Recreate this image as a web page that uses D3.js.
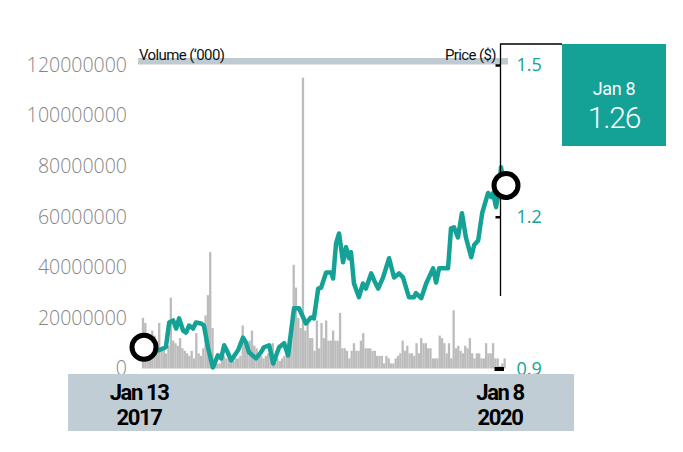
<!DOCTYPE html>
<html>
<head>
<meta charset="utf-8">
<script src="https://cdn.jsdelivr.net/npm/d3@7"></script>
<style>
  body { margin: 0; background: #fff; }
  text { font-family: "Open Sans", "Noto Sans", sans-serif; }
</style>
</head>
<body>
<svg id="chart" width="683" height="452"></svg>
<script>
// weekly volume in millions, first week Jan 13 2017
let volumeM = [20,18,14,12,15,13,9,18,7,8, 6,9,28,11,10,9,12,8,7,6,
  5,7,4,14,6,5,8,21,29,46, 16,3,2,2,5,5,4,4,4,3,
  4,4,5,17,11,10,11,15,9,8, 5,5,4,5,6,6,10,4,4,3,
  4,5,8,7,16,41,32,20,16,115, 15,18,12,12,7,19,8,18,12,19,
  11,11,15,11,11,22,8,8,7,4, 7,10,7,7,11,14,8,8,8,7,
  7,5,5,5,2,5,4,2,2,4, 5,6,11,7,9,6,6,5,10,6,
  12,10,10,8,8,4,4,4,13,12, 10,6,10,4,23,8,9,7,6,9,
  8,12,6,4,6,6,4,4,10,6, 6,10,4,4,1,2,4];

let priceDates = ["2017-01-13","2017-03-02","2017-03-23","2017-04-02","2017-04-14","2017-04-23","2017-05-02","2017-05-14","2017-05-23","2017-06-01","2017-06-13","2017-06-22","2017-07-07","2017-07-16","2017-07-28","2017-08-12","2017-08-27","2017-09-06","2017-09-15","2017-09-27","2017-10-06","2017-10-27","2017-11-11","2017-11-20","2017-11-29","2017-12-20",
  "2018-01-04","2018-01-13","2018-01-29","2018-02-10","2018-02-28","2018-03-15","2018-03-27","2018-04-14","2018-04-29","2018-05-20","2018-06-04","2018-06-13","2018-06-26","2018-07-05","2018-07-20","2018-08-04","2018-08-10","2018-08-19","2018-08-28","2018-09-09","2018-09-18","2018-09-27","2018-10-03","2018-10-12","2018-10-27","2018-11-08","2018-11-17","2018-12-03","2018-12-12","2018-12-24",
  "2019-01-08","2019-01-26","2019-02-10","2019-02-25","2019-03-09","2019-03-27","2019-04-11","2019-04-17","2019-05-03","2019-05-18","2019-06-08","2019-06-17","2019-06-26","2019-07-23","2019-08-01","2019-08-10","2019-08-22","2019-09-03","2019-09-15","2019-10-01","2019-10-10","2019-10-22","2019-11-03","2019-11-21","2019-11-30","2019-12-06","2019-12-15","2019-12-24","2019-12-30",
  "2020-01-08"];
let priceValues = [0.940,0.936,0.942,0.991,0.995,0.979,0.999,0.975,0.971,0.985,0.979,0.991,0.989,0.985,0.942,0.902,0.926,0.920,0.946,0.930,0.916,0.936,0.961,0.951,0.932,0.920,
  0.932,0.942,0.946,0.910,0.942,0.950,0.926,1.019,1.019,0.989,1.001,0.999,1.058,1.060,1.090,1.090,1.078,1.148,1.167,1.110,1.140,1.118,1.130,1.068,1.041,1.068,1.058,1.088,1.074,1.058,
  1.080,1.118,1.080,1.088,1.080,1.041,1.041,1.049,1.039,1.068,1.098,1.070,1.098,1.098,1.177,1.179,1.159,1.207,1.159,1.120,1.144,1.153,1.207,1.247,1.239,1.247,1.219,1.252,1.298,
  1.26];

let volumeTicks = [0, 20, 40, 60, 80, 100, 120];
let priceTicks = [0.9, 1.2, 1.5];
let startLabel = ["Jan 13", "2017"];
let endLabel = ["Jan 8", "2020"];
let lastDay = "Jan 8";
let lastPrice = 1.26;

let teal = "#14a196";
let parse = d3.timeParse("%Y-%m-%d");
let svg = d3.select("#chart");

let startDate = parse(priceDates[0]);
let endDate = parse(priceDates[priceDates.length - 1]);

let x = d3.scaleTime().domain([startDate, endDate]).range([143, 504]);
let yVol = d3.scaleLinear().domain([0, 120]).range([368.5, 65]);
let yPrice = d3.scaleLinear().domain([0.9, 1.5]).range([368.5, 65]);

// header strip
svg.append("rect").attr("x", 138).attr("y", 58).attr("width", 370).attr("height", 6.5).attr("fill", "#bfcbd2");
svg.append("text").attr("x", 139).attr("y", 59.5).text("Volume (\u2018000)")
   .style("font-family", "Roboto").style("font-size", "15px").style("letter-spacing", "-0.6px").attr("fill", "#111");
svg.append("text").attr("x", 496).attr("y", 59.5).attr("text-anchor", "end").text("Price ($)")
   .style("font-family", "Roboto").style("font-size", "15px").style("letter-spacing", "-0.6px").attr("fill", "#111");

// volume axis
let volAxis = svg.append("g").attr("transform", "translate(127,0)")
   .call(d3.axisLeft(yVol).tickValues(volumeTicks).tickSize(0).tickPadding(0)
         .tickFormat(d => d3.format("d")(d * 1e6)));
volAxis.select(".domain").remove();
volAxis.selectAll("text").style("font-size", "19.5px").style("font-weight", 300)
   .style("font-family", "'Open Sans'").attr("fill", "#858585");

// volume bars
let weeks = volumeM.map((v, i) => ({date: d3.timeDay.offset(startDate, 7 * i), v: v}));
let step = x(d3.timeDay.offset(startDate, 7)) - x(startDate);
svg.append("g").selectAll("rect").data(weeks).enter().append("rect")
   .attr("x", d => x(d.date) - step / 2)
   .attr("y", d => yVol(d.v))
   .attr("width", step)
   .attr("height", d => yVol(0) - yVol(d.v))
   .attr("fill", "#bcbcbc");

// price line
let prices = priceDates.map((d, i) => ({date: parse(d), p: priceValues[i]}));
let line = d3.line().x(d => x(d.date)).y(d => yPrice(d.p));
svg.append("path").datum(prices).attr("d", line)
   .attr("fill", "none").attr("stroke", teal).attr("stroke-width", 4.5)
   .attr("stroke-linejoin", "round").attr("stroke-linecap", "round");

// bracket line to the callout box
svg.append("path").attr("d", "M562,44H500.5V296").attr("fill", "none").attr("stroke", "#000").attr("stroke-width", 1.3);

// price axis
let priceAxis = svg.append("g").attr("transform", "translate(500.5,0)")
   .call(d3.axisRight(yPrice).tickValues(priceTicks).tickSizeInner(-5).tickSizeOuter(0).tickPadding(16)
         .tickFormat(d3.format(".1f")));
priceAxis.select(".domain").remove();
priceAxis.selectAll("line").attr("stroke", "#000").attr("stroke-width", 2.5);
priceAxis.selectAll(".tick").filter(d => d === 0.9).select("line")
   .attr("x1", -6).attr("x2", 3.5).attr("stroke-width", 4);
priceAxis.selectAll("text").style("font-size", "18px").attr("fill", teal);

// bottom date band
svg.append("rect").attr("x", 68).attr("y", 374).attr("width", 506).attr("height", 57).attr("fill", "#c1cdd4");
[[startDate, startLabel], [endDate, endLabel]].forEach(([d, lab]) => {
  let t = svg.append("text").attr("x", x(d)).attr("text-anchor", "middle")
     .style("font-family", "Roboto").style("font-weight", 700).style("font-size", "22px")
     .style("letter-spacing", "-1.4px").attr("fill", "#000");
  t.append("tspan").attr("x", x(d) - 4).attr("y", 399.5).text(lab[0]);
  t.append("tspan").attr("x", x(d) - 4).attr("y", 425.4).text(lab[1]);
});

// end markers
let first = prices[0], last = prices[prices.length - 1];
[[first, 1], [last, 2]].forEach(([d, dx]) => {
  svg.append("circle").attr("cx", x(d.date) + dx).attr("cy", yPrice(d.p) - 1)
     .attr("r", 12).attr("fill", "#fff").attr("stroke", "#000").attr("stroke-width", 5);
});

// callout box
svg.append("rect").attr("x", 562).attr("y", 44).attr("width", 104).attr("height", 102).attr("fill", teal);
let callout = svg.append("text").attr("text-anchor", "middle").attr("fill", "#fff")
   .style("font-family", "Roboto");
callout.append("tspan").attr("x", 614).attr("y", 95).text(lastDay)
   .style("font-size", "18px").style("letter-spacing", "-0.3px");
callout.append("tspan").attr("x", 614).attr("y", 127.8).text(d3.format(".2f")(lastPrice))
   .style("font-size", "30px").style("font-weight", 300).style("letter-spacing", "-1.2px");
</script>
</body>
</html>
